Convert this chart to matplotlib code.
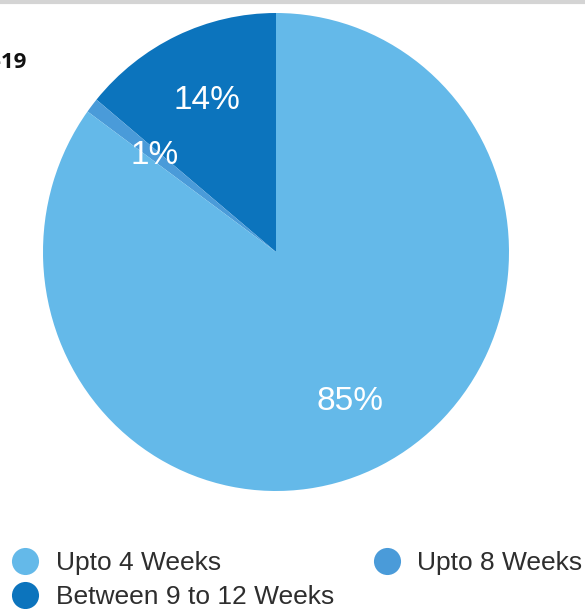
import matplotlib
matplotlib.use("Agg")
import matplotlib.pyplot as plt
from matplotlib.lines import Line2D
import numpy as np

# Share of cases by duration band
categories = ["Upto 4 Weeks", "Upto 8 Weeks", "Between 9 to 12 Weeks"]
shares = [85, 1, 14]
colors = ["#64b9e9", "#4a9bd9", "#0c74bd"]

plt.rcParams["font.family"] = ["Liberation Sans", "DejaVu Sans"]

fig = plt.figure(figsize=(5.85, 6.09), dpi=100)
fig.patch.set_facecolor("white")

# thin grey rule along the top edge
fig.add_artist(Line2D([0, 1], [0.9975, 0.9975], transform=fig.transFigure,
                      color="#d4d4d4", lw=3))

# title fragment at the left edge
fig.text(27 / 585, 1 - 62 / 609, "2018-19", ha="right", va="center",
         fontsize=16, fontweight="bold", color="#111111",
         family=["Open Sans", "DejaVu Sans"])

ax = fig.add_axes([43 / 585, 1 - 491 / 609, 466 / 585, 478 / 609])

# draw counter-clockwise from 12 o'clock: 9-12 weeks, 8 weeks, 4 weeks
order = [2, 1, 0]
wedges, texts, autotexts = ax.pie(
    [shares[i] for i in order],
    colors=[colors[i] for i in order],
    startangle=90,
    counterclock=True,
    autopct=lambda p: f"{p:.0f}%",
    pctdistance=0.70,
    wedgeprops=dict(linewidth=0),
    textprops=dict(color="white", fontsize=24),
)
# pull the small-slice label slightly inward
w = wedges[1]
mid = np.deg2rad((w.theta1 + w.theta2) / 2)
autotexts[1].set_position((0.66 * np.cos(mid), 0.66 * np.sin(mid)))

ax.set_aspect("auto")
ax.set_xlim(-1, 1)
ax.set_ylim(-1, 1)
ax.axis("off")

handles = [Line2D([], [], marker="o", linestyle="none", markersize=19.5,
                  markerfacecolor=colors[i], markeredgewidth=0)
           for i in range(3)]
leg_order = [0, 2, 1]
fig.legend([handles[i] for i in leg_order],
           [categories[i] for i in leg_order],
           ncol=2, loc="upper left",
           bbox_to_anchor=(12 / 585, 1 - 551 / 609),
           frameon=False, fontsize=19, labelcolor="#2e2e2e",
           handlelength=1.0, handletextpad=0.65, columnspacing=1.5,
           labelspacing=0.38, borderpad=0, borderaxespad=0)

fig.savefig("out.png", dpi=100, facecolor="white")
